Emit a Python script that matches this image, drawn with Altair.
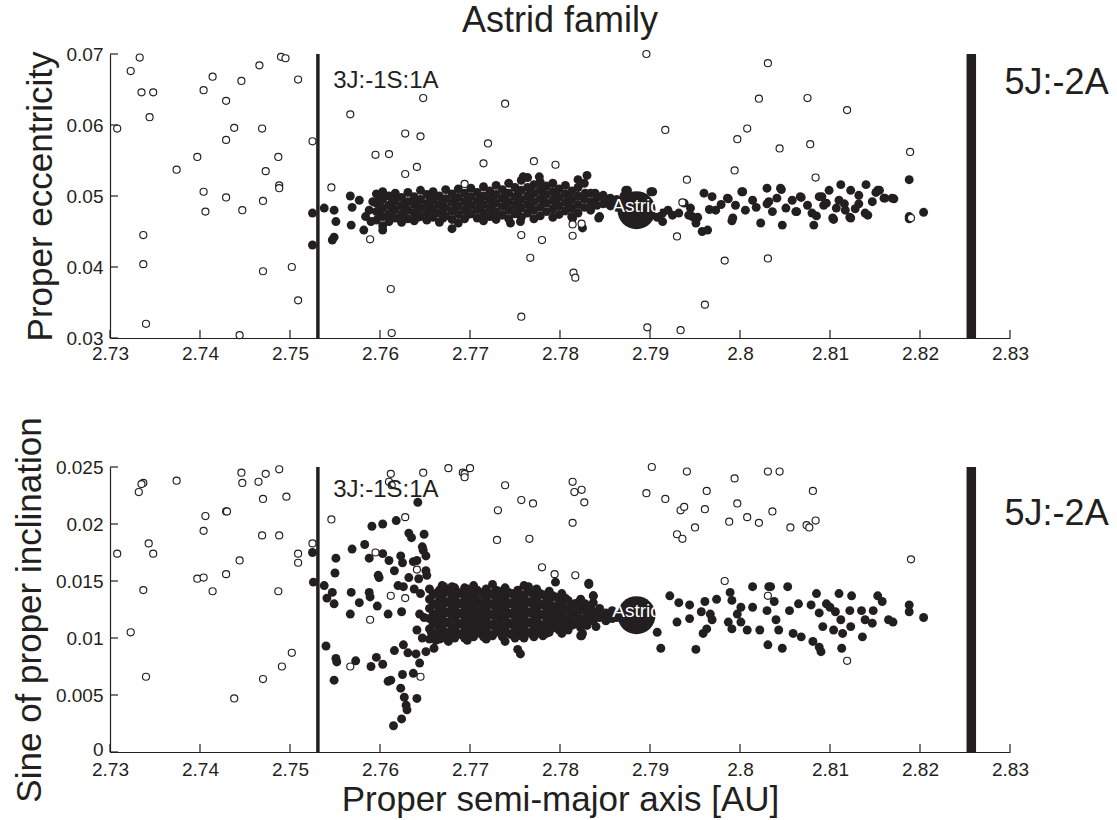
import altair as alt
import pandas as pd

INK = "#231f20"
FONT = "Liberation Sans"

# ---------------- axes ----------------
X_TICKS = [2.73, 2.74, 2.75, 2.76, 2.77, 2.78, 2.79, 2.80, 2.81, 2.82, 2.83]
TOP_Y_TICKS = [0.03, 0.04, 0.05, 0.06, 0.07]
BOT_Y_TICKS = [0.0, 0.005, 0.01, 0.015, 0.02, 0.025]
X_DOMAIN = [2.73, 2.83]
TOP_Y_DOMAIN = [0.03, 0.07]
BOT_Y_DOMAIN = [0.0, 0.025]

# resonances
RES_3J = 2.7531
RES_5J = 2.8257
RES_3J_LABEL = "3J:-1S:1A"
RES_5J_LABEL = "5J:-2A"

# Astrid itself (a, e, sin i)
ASTRID = (2.7885, 0.0480, 0.0120)

# ---------------- top panel: proper eccentricity ----------------
top_nonmembers = [
    (2.7308, 0.0595), (2.7323, 0.0676), (2.7333, 0.0695), (2.7335, 0.0646), (2.7348, 0.0646),
    (2.7344, 0.0611), (2.7337, 0.0445), (2.7337, 0.0404), (2.7340, 0.0320), (2.7374, 0.0537),
    (2.7397, 0.0555), (2.7404, 0.0649), (2.7414, 0.0668), (2.7429, 0.0634), (2.7429, 0.0579),
    (2.7438, 0.0596), (2.7446, 0.0662), (2.7404, 0.0506), (2.7406, 0.0478), (2.7429, 0.0498),
    (2.7447, 0.0480), (2.7444, 0.0304), (2.7466, 0.0684), (2.7469, 0.0595), (2.7473, 0.0535),
    (2.7470, 0.0493), (2.7470, 0.0394), (2.7490, 0.0696), (2.7495, 0.0694), (2.7487, 0.0555),
    (2.7488, 0.0515), (2.7488, 0.0511), (2.7509, 0.0664), (2.7502, 0.0400), (2.7509, 0.0353),
    (2.7525, 0.0577), (2.7546, 0.0512), (2.7567, 0.0615), (2.7589, 0.0439), (2.7595, 0.0558),
    (2.7610, 0.0559), (2.7612, 0.0369), (2.7613, 0.0307), (2.7628, 0.0588), (2.7645, 0.0584),
    (2.7628, 0.0531), (2.7641, 0.0541), (2.7648, 0.0638), (2.7694, 0.0517), (2.7715, 0.0546),
    (2.7720, 0.0574), (2.7739, 0.0630), (2.7757, 0.0445), (2.7767, 0.0413), (2.7757, 0.0330),
    (2.7771, 0.0549), (2.7780, 0.0438), (2.7795, 0.0544), (2.7896, 0.0700), (2.8031, 0.0687),
    (2.8021, 0.0637), (2.8075, 0.0638), (2.8119, 0.0621), (2.7917, 0.0593), (2.8008, 0.0595),
    (2.7997, 0.0580), (2.8044, 0.0567), (2.8078, 0.0573), (2.8189, 0.0562), (2.7994, 0.0536),
    (2.7941, 0.0523), (2.8084, 0.0526), (2.7936, 0.0491), (2.7814, 0.0460), (2.7824, 0.0461),
    (2.7814, 0.0444), (2.7930, 0.0443), (2.7983, 0.0409), (2.8031, 0.0412), (2.7815, 0.0392),
    (2.7817, 0.0385), (2.7961, 0.0347), (2.7897, 0.0315), (2.7934, 0.0311), (2.8190, 0.0469),
]

top_members_scatter = [
    (2.7525, 0.0476), (2.7525, 0.0431), (2.7538, 0.0483), (2.7549, 0.0480), (2.7551, 0.0464),
    (2.7547, 0.0438), (2.7549, 0.0442), (2.7567, 0.0500), (2.7577, 0.0494), (2.7569, 0.0484),
    (2.7568, 0.0459), (2.7582, 0.0452), (2.7588, 0.0480), (2.7590, 0.0464), (2.7584, 0.0471),
    (2.7592, 0.0492), (2.7603, 0.0452), (2.7680, 0.0454), (2.7745, 0.0462), (2.7756, 0.0464),
    (2.7820, 0.0523), (2.7830, 0.0529), (2.7828, 0.0504), (2.7842, 0.0499), (2.7852, 0.0490),
    (2.7844, 0.0471), (2.7875, 0.0508), (2.7901, 0.0506), (2.7825, 0.0455), (2.7839, 0.0504),
    (2.7847, 0.0499), (2.7843, 0.0469), (2.7873, 0.0508), (2.7860, 0.0492), (2.7836, 0.0488),
    (2.7759, 0.0527), (2.7777, 0.0527), (2.7814, 0.0469),
]

top_members_band = [
    (2.7596, [0.0503, 0.0490, 0.0478, 0.0466]),
    (2.7600, [0.0497, 0.0484, 0.0472]),
    (2.7603, [0.0506, 0.0495, 0.0483, 0.0471, 0.0458]),
    (2.7610, [0.0500, 0.0487, 0.0475, 0.0464]),
    (2.7614, [0.0493, 0.0481]),
    (2.7617, [0.0504, 0.0493, 0.0481, 0.0469]),
    (2.7624, [0.0498, 0.0486, 0.0474, 0.0463]),
    (2.7628, [0.0491, 0.0479]),
    (2.7631, [0.0505, 0.0492, 0.0480, 0.0468]),
    (2.7638, [0.0499, 0.0488, 0.0476, 0.0465]),
    (2.7642, [0.0493, 0.0481, 0.0470]),
    (2.7645, [0.0508, 0.0495, 0.0483, 0.0471]),
    (2.7652, [0.0502, 0.0489, 0.0477, 0.0466]),
    (2.7656, [0.0496, 0.0484]),
    (2.7659, [0.0506, 0.0494, 0.0482, 0.0470]),
    (2.7666, [0.0500, 0.0488, 0.0476, 0.0463]),
    (2.7670, [0.0493, 0.0481, 0.0469]),
    (2.7673, [0.0509, 0.0496, 0.0484, 0.0472]),
    (2.7680, [0.0503, 0.0491, 0.0479, 0.0467]),
    (2.7684, [0.0497, 0.0485]),
    (2.7687, [0.0510, 0.0498, 0.0486, 0.0474, 0.0462]),
    (2.7694, [0.0504, 0.0492, 0.0480, 0.0468]),
    (2.7698, [0.0497, 0.0486, 0.0474]),
    (2.7701, [0.0511, 0.0499, 0.0487, 0.0475]),
    (2.7708, [0.0505, 0.0493, 0.0481, 0.0469]),
    (2.7712, [0.0498, 0.0487]),
    (2.7715, [0.0513, 0.0500, 0.0488, 0.0476, 0.0465]),
    (2.7722, [0.0507, 0.0495, 0.0483, 0.0471]),
    (2.7726, [0.0501, 0.0489, 0.0477]),
    (2.7729, [0.0515, 0.0502, 0.0490, 0.0478, 0.0467]),
    (2.7736, [0.0509, 0.0497, 0.0485, 0.0473]),
    (2.7740, [0.0503, 0.0491]),
    (2.7743, [0.0518, 0.0504, 0.0492, 0.0480, 0.0468]),
    (2.7750, [0.0512, 0.0499, 0.0487, 0.0475]),
    (2.7754, [0.0505, 0.0493, 0.0481]),
    (2.7757, [0.0522, 0.0508, 0.0495, 0.0483, 0.0470]),
    (2.7764, [0.0526, 0.0512, 0.0500, 0.0488, 0.0476]),
    (2.7768, [0.0506, 0.0494, 0.0482]),
    (2.7771, [0.0516, 0.0504, 0.0492, 0.0480, 0.0468]),
    (2.7778, [0.0520, 0.0508, 0.0496, 0.0484, 0.0472]),
    (2.7782, [0.0502, 0.0490]),
    (2.7785, [0.0514, 0.0502, 0.0490, 0.0478]),
    (2.7792, [0.0518, 0.0506, 0.0494, 0.0482, 0.0470]),
    (2.7796, [0.0500, 0.0488]),
    (2.7799, [0.0510, 0.0498, 0.0486, 0.0474]),
    (2.7806, [0.0515, 0.0503, 0.0491, 0.0479]),
    (2.7810, [0.0497, 0.0485]),
    (2.7813, [0.0507, 0.0495, 0.0483, 0.0471]),
    (2.7820, [0.0512, 0.0500, 0.0488, 0.0476]),
    (2.7827, [0.0518, 0.0496, 0.0484]),
    (2.7834, [0.0504, 0.0492, 0.0480]),
    (2.7841, [0.0498, 0.0487]),
    (2.7848, [0.0501, 0.0489]),
    (2.7856, [0.0497, 0.0486]),
    (2.7863, [0.0495, 0.0484]),
    (2.7871, [0.0500, 0.0486]),
]

top_members_right = [
    (2.7903, 0.0506), (2.7914, 0.0476), (2.7914, 0.0464), (2.7925, 0.0473), (2.7932, 0.0476),
    (2.7945, 0.0483), (2.7947, 0.0471), (2.7951, 0.0462), (2.7960, 0.0504), (2.7958, 0.0450),
    (2.7964, 0.0452), (2.7969, 0.0499), (2.7973, 0.0480), (2.7986, 0.0497), (2.7992, 0.0469),
    (2.7995, 0.0487), (2.8003, 0.0506), (2.8006, 0.0480), (2.8014, 0.0494), (2.8023, 0.0462),
    (2.8030, 0.0511), (2.8032, 0.0492), (2.8036, 0.0478), (2.8045, 0.0511), (2.8047, 0.0459),
    (2.8051, 0.0483), (2.8058, 0.0494), (2.8062, 0.0478), (2.8067, 0.0499), (2.8080, 0.0476),
    (2.8082, 0.0459), (2.8088, 0.0499), (2.8093, 0.0487), (2.8099, 0.0508), (2.8103, 0.0469),
    (2.8110, 0.0494), (2.8112, 0.0516), (2.8117, 0.0480), (2.8123, 0.0508), (2.8123, 0.0469),
    (2.8132, 0.0501), (2.8140, 0.0516), (2.8142, 0.0473), (2.8147, 0.0492), (2.8153, 0.0508),
    (2.8160, 0.0497), (2.8171, 0.0496), (2.8188, 0.0523), (2.8188, 0.0471), (2.8204, 0.0477),
    (2.7908, 0.0470), (2.7943, 0.0473), (2.7953, 0.0470), (2.7966, 0.0481), (2.7987, 0.0496),
    (2.7991, 0.0465), (2.8002, 0.0506), (2.8030, 0.0489), (2.8046, 0.0509), (2.8063, 0.0478),
    (2.8068, 0.0498), (2.8091, 0.0499), (2.8096, 0.0490), (2.8104, 0.0467), (2.8116, 0.0489),
    (2.8122, 0.0470), (2.8132, 0.0489), (2.8139, 0.0476), (2.8151, 0.0505), (2.8155, 0.0508),
    (2.8161, 0.0497), (2.8169, 0.0497), (2.8188, 0.0468), (2.7920, 0.0480), (2.7938, 0.0490),
    (2.7979, 0.0488), (2.8018, 0.0484), (2.8041, 0.0497), (2.8075, 0.0487), (2.8107, 0.0483),
    (2.8128, 0.0482), (2.8085, 0.0472),
]

# ---------------- bottom panel: sine of proper inclination ----------------
bot_nonmembers = [
    (2.7308, 0.0174), (2.7323, 0.0105), (2.7332, 0.0228), (2.7337, 0.0236), (2.7335, 0.0235),
    (2.7343, 0.0183), (2.7348, 0.0174), (2.7337, 0.0142), (2.7340, 0.0066), (2.7374, 0.0238),
    (2.7397, 0.0152), (2.7404, 0.0153), (2.7406, 0.0207), (2.7404, 0.0194), (2.7414, 0.0141),
    (2.7429, 0.0211), (2.7430, 0.0211), (2.7429, 0.0156), (2.7438, 0.0047), (2.7444, 0.0168),
    (2.7446, 0.0245), (2.7447, 0.0236), (2.7465, 0.0237), (2.7473, 0.0244), (2.7470, 0.0222),
    (2.7469, 0.0190), (2.7470, 0.0064), (2.7488, 0.0248), (2.7488, 0.0190), (2.7487, 0.0141),
    (2.7491, 0.0075), (2.7496, 0.0224), (2.7502, 0.0087), (2.7509, 0.0174), (2.7509, 0.0166),
    (2.7525, 0.0183), (2.7546, 0.0204), (2.7567, 0.0075), (2.7595, 0.0175), (2.7589, 0.0116),
    (2.7612, 0.0244), (2.7610, 0.0237), (2.7613, 0.0234), (2.7628, 0.0206), (2.7641, 0.0160),
    (2.7612, 0.0137), (2.7628, 0.0135), (2.7645, 0.0066), (2.7648, 0.0245), (2.7676, 0.0249),
    (2.7692, 0.0245), (2.7694, 0.0244), (2.7700, 0.0249), (2.7694, 0.0241), (2.7739, 0.0234),
    (2.7731, 0.0212), (2.7730, 0.0186), (2.7757, 0.0221), (2.7770, 0.0218), (2.7766, 0.0187),
    (2.7780, 0.0162), (2.7794, 0.0156), (2.7814, 0.0237), (2.7816, 0.0228), (2.7824, 0.0230),
    (2.7827, 0.0219), (2.7814, 0.0201), (2.7817, 0.0155), (2.7902, 0.0250), (2.7896, 0.0227),
    (2.7917, 0.0222), (2.7941, 0.0246), (2.7930, 0.0191), (2.7936, 0.0187), (2.7934, 0.0212),
    (2.7938, 0.0215), (2.7950, 0.0197), (2.7961, 0.0213), (2.7963, 0.0229), (2.7988, 0.0202),
    (2.7994, 0.0240), (2.7997, 0.0218), (2.8008, 0.0206), (2.8021, 0.0201), (2.8031, 0.0246),
    (2.8044, 0.0246), (2.8036, 0.0211), (2.8056, 0.0197), (2.8074, 0.0199), (2.8077, 0.0197),
    (2.8084, 0.0203), (2.8081, 0.0229), (2.7983, 0.0150), (2.8031, 0.0137), (2.8119, 0.0080),
    (2.8190, 0.0169),
]

bot_members_scatter = [
    (2.7525, 0.0175), (2.7526, 0.0149), (2.7538, 0.0146), (2.7541, 0.0135), (2.7547, 0.0140),
    (2.7549, 0.0130), (2.7551, 0.0170), (2.7550, 0.0157), (2.7540, 0.0093), (2.7551, 0.0082),
    (2.7552, 0.0079), (2.7549, 0.0063), (2.7569, 0.0178), (2.7568, 0.0140), (2.7567, 0.0121),
    (2.7577, 0.0131), (2.7573, 0.0080), (2.7583, 0.0182), (2.7588, 0.0170), (2.7588, 0.0140),
    (2.7589, 0.0136), (2.7591, 0.0198), (2.7603, 0.0200), (2.7597, 0.0128), (2.7598, 0.0155),
    (2.7599, 0.0153), (2.7603, 0.0174), (2.7610, 0.0168), (2.7609, 0.0121), (2.7590, 0.0075),
    (2.7596, 0.0083), (2.7603, 0.0077), (2.7609, 0.0062), (2.7612, 0.0063), (2.7616, 0.0089),
    (2.7618, 0.0203), (2.7616, 0.0159), (2.7623, 0.0172), (2.7625, 0.0166), (2.7620, 0.0146),
    (2.7626, 0.0145), (2.7624, 0.0123), (2.7626, 0.0094), (2.7631, 0.0087), (2.7625, 0.0068),
    (2.7623, 0.0056), (2.7627, 0.0048), (2.7629, 0.0041), (2.7630, 0.0037), (2.7624, 0.0029),
    (2.7615, 0.0023), (2.7632, 0.0192), (2.7635, 0.0188), (2.7632, 0.0153), (2.7637, 0.0167),
    (2.7638, 0.0143), (2.7640, 0.0086), (2.7637, 0.0069), (2.7641, 0.0047), (2.7642, 0.0219),
    (2.7649, 0.0191), (2.7647, 0.0180), (2.7648, 0.0177), (2.7651, 0.0172), (2.7641, 0.0168),
    (2.7651, 0.0159), (2.7652, 0.0155), (2.7643, 0.0152), (2.7645, 0.0139), (2.7644, 0.0121),
    (2.7649, 0.0118), (2.7641, 0.0107), (2.7647, 0.0100), (2.7651, 0.0088), (2.7644, 0.0078),
    (2.7660, 0.0091), (2.7662, 0.0098), (2.7657, 0.0105), (2.7661, 0.0114),
    (2.7832, 0.0147), (2.7837, 0.0137), (2.7756, 0.0086), (2.7823, 0.0102), (2.7825, 0.0104),
    (2.7765, 0.0145), (2.7671, 0.0145),
    (2.7842, 0.0121), (2.7852, 0.0120), (2.7863, 0.0118), (2.7870, 0.0122),
]

bot_members_band = [
    (2.7655, [0.0143, 0.0134, 0.0126, 0.0117, 0.0108, 0.0099]),
    (2.7659, [0.0138, 0.0129, 0.0121, 0.0112, 0.0104]),
    (2.7662, [0.0139, 0.0130, 0.0121, 0.0112, 0.0103]),
    (2.7666, [0.0142, 0.0133, 0.0125, 0.0116, 0.0107, 0.0099]),
    (2.7669, [0.0146, 0.0136, 0.0127, 0.0118, 0.0109, 0.0100]),
    (2.7673, [0.0140, 0.0131, 0.0122, 0.0113, 0.0104]),
    (2.7676, [0.0141, 0.0132, 0.0123, 0.0114, 0.0105, 0.0097]),
    (2.7680, [0.0145, 0.0137, 0.0128, 0.0119, 0.0110, 0.0101]),
    (2.7683, [0.0144, 0.0135, 0.0126, 0.0117, 0.0108, 0.0100]),
    (2.7687, [0.0140, 0.0131, 0.0122, 0.0113, 0.0104]),
    (2.7690, [0.0139, 0.0130, 0.0121, 0.0112, 0.0103]),
    (2.7694, [0.0144, 0.0136, 0.0127, 0.0118, 0.0109, 0.0100]),
    (2.7697, [0.0143, 0.0134, 0.0125, 0.0116, 0.0107, 0.0098]),
    (2.7701, [0.0139, 0.0130, 0.0121, 0.0112, 0.0103]),
    (2.7704, [0.0146, 0.0137, 0.0128, 0.0119, 0.0110, 0.0101]),
    (2.7708, [0.0142, 0.0133, 0.0124, 0.0115, 0.0106]),
    (2.7711, [0.0140, 0.0131, 0.0122, 0.0113, 0.0104]),
    (2.7715, [0.0138, 0.0128, 0.0119, 0.0110, 0.0101]),
    (2.7718, [0.0143, 0.0134, 0.0125, 0.0116, 0.0107, 0.0099]),
    (2.7722, [0.0139, 0.0130, 0.0121, 0.0112, 0.0103]),
    (2.7725, [0.0147, 0.0138, 0.0129, 0.0120, 0.0111, 0.0102]),
    (2.7729, [0.0142, 0.0134, 0.0125, 0.0116, 0.0107]),
    (2.7732, [0.0141, 0.0132, 0.0123, 0.0114, 0.0105]),
    (2.7736, [0.0137, 0.0128, 0.0119, 0.0110, 0.0101]),
    (2.7739, [0.0144, 0.0135, 0.0126, 0.0117, 0.0108, 0.0097]),
    (2.7743, [0.0140, 0.0131, 0.0122, 0.0113, 0.0104]),
    (2.7746, [0.0139, 0.0130, 0.0121, 0.0112, 0.0103]),
    (2.7750, [0.0136, 0.0127, 0.0118, 0.0109, 0.0100]),
    (2.7753, [0.0142, 0.0133, 0.0124, 0.0115, 0.0106, 0.0090]),
    (2.7757, [0.0138, 0.0129, 0.0120, 0.0111, 0.0102]),
    (2.7760, [0.0146, 0.0136, 0.0127, 0.0118, 0.0109, 0.0100]),
    (2.7764, [0.0141, 0.0132, 0.0123, 0.0114, 0.0105]),
    (2.7767, [0.0140, 0.0131, 0.0122, 0.0113, 0.0104]),
    (2.7771, [0.0137, 0.0128, 0.0119, 0.0110, 0.0101]),
    (2.7774, [0.0143, 0.0134, 0.0125, 0.0116, 0.0107]),
    (2.7778, [0.0139, 0.0130, 0.0121, 0.0112, 0.0104]),
    (2.7781, [0.0138, 0.0129, 0.0120, 0.0111, 0.0102]),
    (2.7785, [0.0135, 0.0126, 0.0117, 0.0108]),
    (2.7788, [0.0141, 0.0132, 0.0123, 0.0114, 0.0105]),
    (2.7792, [0.0137, 0.0128, 0.0120, 0.0111]),
    (2.7795, [0.0136, 0.0127, 0.0118, 0.0109]),
    (2.7799, [0.0133, 0.0124, 0.0115, 0.0107]),
    (2.7802, [0.0139, 0.0130, 0.0121, 0.0112, 0.0104]),
    (2.7806, [0.0135, 0.0126, 0.0117, 0.0109]),
    (2.7809, [0.0133, 0.0124, 0.0115, 0.0107]),
    (2.7813, [0.0128, 0.0119, 0.0111]),
    (2.7816, [0.0130, 0.0121, 0.0112]),
    (2.7820, [0.0131, 0.0123, 0.0114]),
    (2.7823, [0.0134, 0.0126, 0.0117, 0.0109]),
    (2.7827, [0.0124, 0.0116]),
    (2.7830, [0.0128, 0.0119, 0.0111]),
    (2.7834, [0.0126, 0.0118]),
    (2.7837, [0.0131, 0.0123, 0.0115]),
    (2.7844, [0.0126, 0.0118]),
    (2.7851, [0.0122, 0.0115]),
    (2.7858, [0.0124, 0.0117]),
    (2.7866, [0.0120]),
    (2.7873, [0.0122]),
]

bot_members_right = [
    (2.7795, 0.0149), (2.7832, 0.0148), (2.7837, 0.0137), (2.7828, 0.0130), (2.7840, 0.0110),
    (2.7824, 0.0102), (2.7818, 0.0121), (2.7801, 0.0116), (2.7785, 0.0104), (2.7908, 0.0105),
    (2.7912, 0.0091), (2.7922, 0.0137), (2.7930, 0.0114), (2.7932, 0.0131), (2.7944, 0.0129),
    (2.7944, 0.0117), (2.7951, 0.0090), (2.7957, 0.0123), (2.7961, 0.0132), (2.7963, 0.0108),
    (2.7959, 0.0104), (2.7967, 0.0121), (2.7969, 0.0116), (2.7974, 0.0134), (2.7987, 0.0114),
    (2.7989, 0.0140), (2.7991, 0.0133), (2.7991, 0.0108), (2.7997, 0.0121), (2.8001, 0.0127),
    (2.8001, 0.0114), (2.8008, 0.0107), (2.8014, 0.0145), (2.8014, 0.0127), (2.8022, 0.0107),
    (2.8030, 0.0124), (2.8032, 0.0145), (2.8031, 0.0094), (2.8034, 0.0145), (2.8038, 0.0132),
    (2.8040, 0.0116), (2.8043, 0.0107), (2.8047, 0.0091), (2.8053, 0.0145), (2.8055, 0.0124),
    (2.8059, 0.0104), (2.8065, 0.0130), (2.8068, 0.0101), (2.8079, 0.0129), (2.8081, 0.0097),
    (2.8085, 0.0139), (2.8088, 0.0122), (2.8088, 0.0092), (2.8090, 0.0088), (2.8092, 0.0110),
    (2.8096, 0.0130), (2.8100, 0.0127), (2.8104, 0.0107), (2.8106, 0.0123), (2.8110, 0.0139),
    (2.8112, 0.0116), (2.8114, 0.0104), (2.8113, 0.0091), (2.8122, 0.0124), (2.8124, 0.0137),
    (2.8123, 0.0110), (2.8135, 0.0124), (2.8136, 0.0101), (2.8139, 0.0116), (2.8147, 0.0113),
    (2.8148, 0.0124), (2.8153, 0.0137), (2.8158, 0.0132), (2.8165, 0.0116), (2.8170, 0.0114),
    (2.8188, 0.0129), (2.8188, 0.0123), (2.8204, 0.0118),
]


def flatten(scatter, band, right):
    pts = list(scatter) + [(a, v) for a, vs in band for v in vs] + list(right)
    return pd.DataFrame(pts, columns=["a", "v"])


def panel(members, nonmembers, astrid_v, ydom, yticks, ytitle, height,
          res3_y, res5_y, xlabel_pad, xtitle=None, title=None, title_y=None):
    W = 900
    xs = alt.Scale(domain=X_DOMAIN, nice=False, zero=False)
    ys = alt.Scale(domain=ydom, nice=False, zero=False)

    x_axis_kw = dict(values=X_TICKS, format="~g", ticks=False, grid=False,
                     domainColor=INK, domainWidth=1.2, labelColor=INK,
                     labelFont=FONT, labelFontSize=19, labelPadding=xlabel_pad,
                     labelFlush=False, labelOverlap=False)
    if xtitle:
        x_axis_kw.update(title=xtitle, titleFont=FONT, titleFontSize=35,
                         titleFontWeight="normal", titleColor=INK, titlePadding=3)
    else:
        x_axis_kw.update(title="")
    y_axis = alt.Axis(values=yticks, format="~g", ticks=False, grid=False,
                      domainColor=INK, domainWidth=1.2, labelColor=INK,
                      labelFont=FONT, labelFontSize=19, labelPadding=7,
                      labelOffset={"condition": {"test": "datum.value == 0", "value": -3},
                                   "value": 0},
                      labelFlush=False, labelOverlap=False,
                      title=ytitle, titleFont=FONT, titleFontSize=35,
                      titleFontWeight="normal", titleColor=INK, titlePadding=8)

    X = alt.X("a:Q", scale=xs)
    Y = alt.Y("v:Q", scale=ys)

    mem = alt.Chart(members).mark_point(
        shape="circle", filled=True, size=80, color=INK, opacity=1
    ).encode(
        x=alt.X("a:Q", scale=xs, axis=alt.Axis(**x_axis_kw)),
        y=alt.Y("v:Q", scale=ys, axis=y_axis),
    )
    non = alt.Chart(nonmembers).mark_point(
        shape="circle", filled=False, size=50, stroke=INK, strokeWidth=1.15,
        fill="white", fillOpacity=1, opacity=1
    ).encode(x=X, y=Y)
    astrid_df = pd.DataFrame({"a": [ASTRID[0]], "v": [astrid_v], "name": ["Astrid"]})
    big = alt.Chart(astrid_df).mark_point(
        shape="circle", filled=True, size=1450, color=INK, opacity=1
    ).encode(x=X, y=Y)
    big_lbl = alt.Chart(astrid_df).mark_text(
        font=FONT, fontSize=19, color="white", align="center", baseline="middle", dy=-4
    ).encode(x=X, y=Y, text="name:N")
    rule3 = alt.Chart(astrid_df).mark_rule(color=INK, strokeWidth=3.5).encode(
        x=alt.datum(RES_3J)
    )
    rule5 = alt.Chart(astrid_df).mark_rule(color=INK, strokeWidth=9.5).encode(
        x=alt.datum(RES_5J)
    )
    lbl3 = alt.Chart(astrid_df).mark_text(
        font=FONT, fontSize=24, color=INK, align="left", baseline="middle"
    ).encode(
        x=alt.datum(RES_3J + 0.0017), y=alt.datum(res3_y),
        text=alt.value(RES_3J_LABEL),
    )
    lbl5 = alt.Chart(astrid_df).mark_text(
        font=FONT, fontSize=36, color=INK, align="left", baseline="middle"
    ).encode(
        x=alt.datum(RES_5J + 0.0037), y=alt.datum(res5_y),
        text=alt.value(RES_5J_LABEL),
    )
    xt = alt.Chart(pd.DataFrame({"a": X_TICKS})).mark_rule(color=INK, strokeWidth=1.2).encode(
        x=X, y=alt.value(height), y2=alt.value(height - 8),
    )
    yt = alt.Chart(pd.DataFrame({"v": yticks})).mark_rule(color=INK, strokeWidth=1.2).encode(
        y=Y, x=alt.value(0), x2=alt.value(8),
    )
    layers = [mem, non, big, big_lbl, rule3, rule5, lbl3, lbl5, xt, yt]
    if title:
        ttl = alt.Chart(astrid_df).mark_text(
            font=FONT, fontSize=36, color=INK, align="center", baseline="middle"
        ).encode(
            x=alt.datum(2.78), y=alt.datum(title_y),
            text=alt.value(title),
        )
        layers.append(ttl)
    return alt.layer(*layers).properties(width=W, height=height)


top_df = flatten(top_members_scatter, top_members_band, top_members_right)
top_non_df = pd.DataFrame(top_nonmembers, columns=["a", "v"])
bot_df = flatten(bot_members_scatter, bot_members_band, bot_members_right)
bot_non_df = pd.DataFrame(bot_nonmembers, columns=["a", "v"])

top = panel(top_df, top_non_df, ASTRID[1], TOP_Y_DOMAIN, TOP_Y_TICKS,
            "Proper eccentricity", 284, 0.0662, 0.0659, 6,
            title="Astrid family", title_y=0.07458)
bottom = panel(bot_df, bot_non_df, ASTRID[2], BOT_Y_DOMAIN, BOT_Y_TICKS,
               "Sine of proper inclination", 285, 0.02296, 0.0209, 8,
               xtitle="Proper semi-major axis [AU]")

chart = alt.vconcat(top, bottom, spacing=129, bounds="flush").resolve_scale(
    y="independent"
).configure_view(strokeWidth=0).properties(
    padding={"left": 12, "top": 3, "right": 5, "bottom": 5}
)

chart.save("out.html", embed_options={"renderer": "svg", "actions": False})
